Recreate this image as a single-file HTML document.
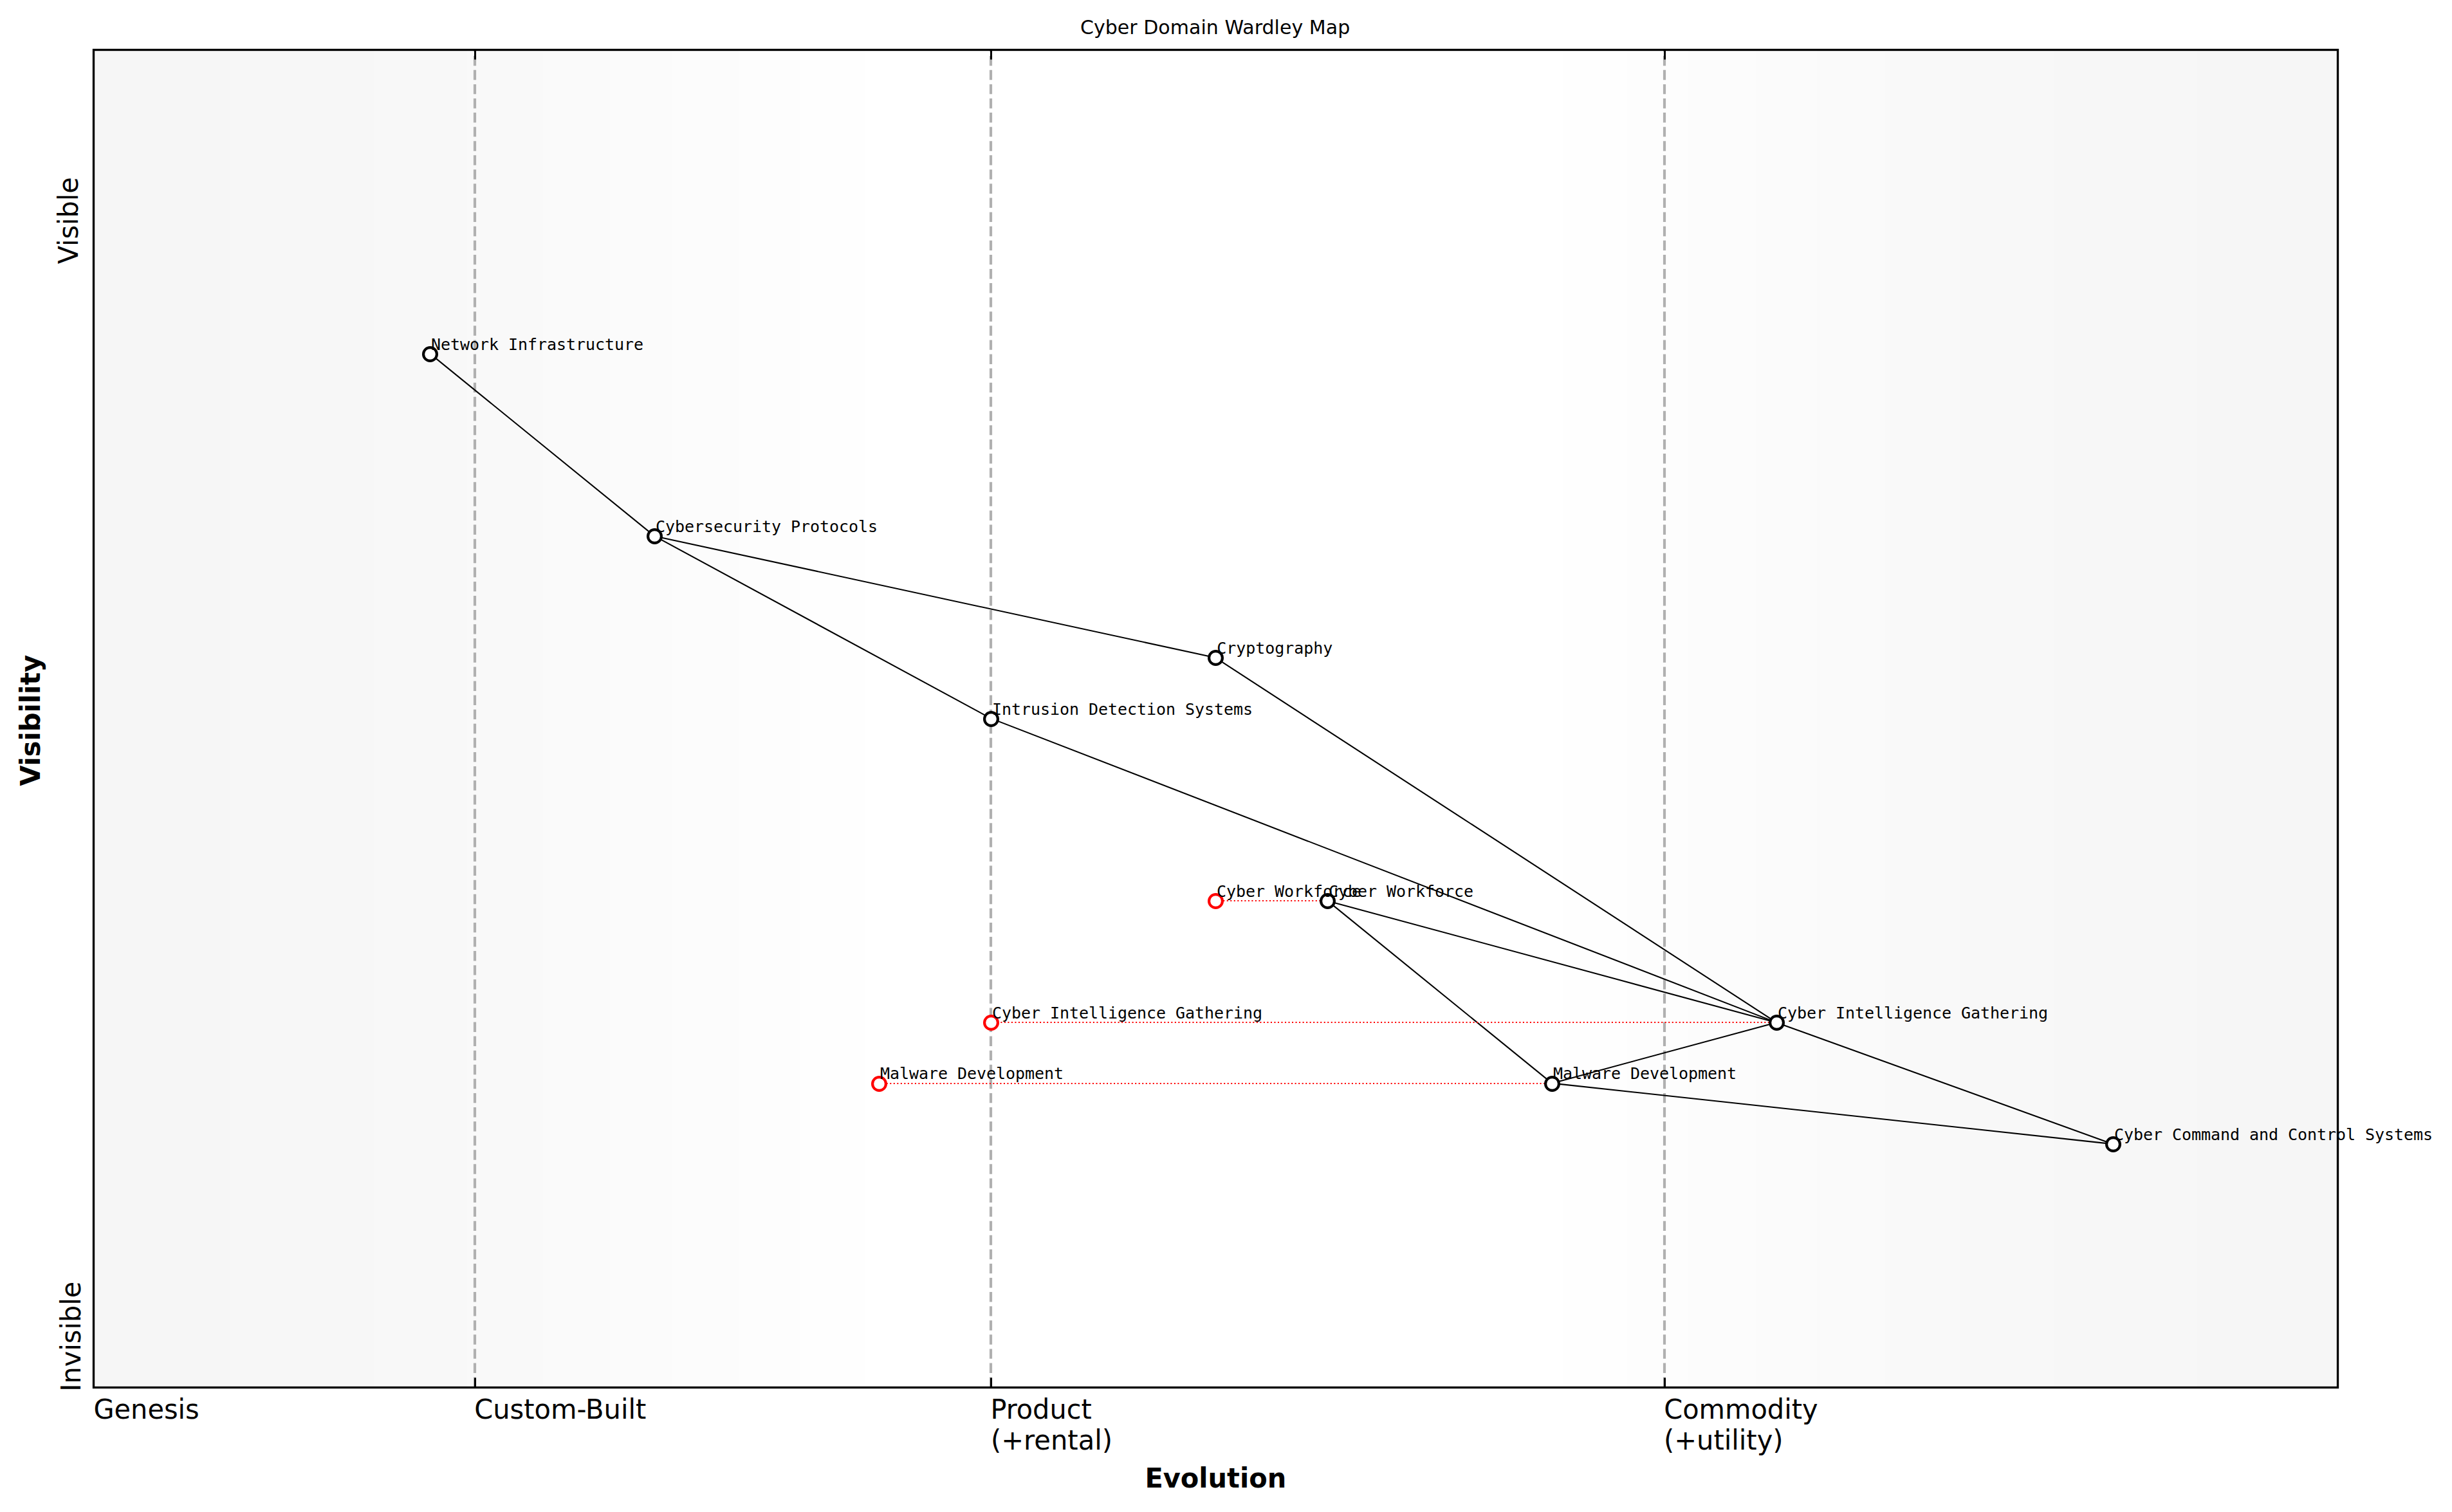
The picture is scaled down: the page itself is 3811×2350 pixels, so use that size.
<!DOCTYPE html>
<html lang="en"><head><meta charset="utf-8"><title>Cyber Domain Wardley Map</title>
<style>
html,body{margin:0;padding:0;background:#fff;}
body{width:3811px;height:2350px;overflow:hidden;}
svg{display:block;}
.s{font-family:"DejaVu Sans","Liberation Sans",sans-serif;}
.m{font-family:"DejaVu Sans Mono","Liberation Mono",monospace;font-size:25px;fill:#000;letter-spacing:-0.05px;}
</style></head><body>
<svg width="3811" height="2350" viewBox="0 0 3811 2350">
<rect x="0" y="0" width="3811" height="2350" fill="#ffffff"/>

<rect x="145" y="77" width="213" height="2080" fill="#f6f6f6"/>
<rect x="358" y="77" width="223" height="2080" fill="#f7f7f7"/>
<rect x="581" y="77" width="145" height="2080" fill="#f8f8f8"/>
<rect x="726" y="77" width="118" height="2080" fill="#f9f9f9"/>
<rect x="844" y="77" width="104" height="2080" fill="#fafafa"/>
<rect x="948" y="77" width="96" height="2080" fill="#fbfbfb"/>
<rect x="1044" y="77" width="104" height="2080" fill="#fcfcfc"/>
<rect x="1148" y="77" width="96" height="2080" fill="#fdfdfd"/>
<rect x="1244" y="77" width="100" height="2080" fill="#fefefe"/>
<rect x="1344" y="77" width="1085" height="2080" fill="#ffffff"/>
<rect x="2429" y="77" width="100" height="2080" fill="#fefefe"/>
<rect x="2529" y="77" width="95" height="2080" fill="#fdfdfd"/>
<rect x="2624" y="77" width="105" height="2080" fill="#fcfcfc"/>
<rect x="2729" y="77" width="95" height="2080" fill="#fbfbfb"/>
<rect x="2824" y="77" width="105" height="2080" fill="#fafafa"/>
<rect x="2929" y="77" width="118" height="2080" fill="#f9f9f9"/>
<rect x="3047" y="77" width="145" height="2080" fill="#f8f8f8"/>
<rect x="3192" y="77" width="223" height="2080" fill="#f7f7f7"/>
<rect x="3415" y="77" width="219" height="2080" fill="#f6f6f6"/>
<line x1="738.00" y1="2156.0" x2="738.00" y2="77.5" stroke="#b0b0b0" stroke-width="4.1667" stroke-dasharray="15.417 6.667"/>
<line x1="1540.00" y1="2156.0" x2="1540.00" y2="77.5" stroke="#b0b0b0" stroke-width="4.1667" stroke-dasharray="15.417 6.667"/>
<line x1="2587.00" y1="2156.0" x2="2587.00" y2="77.5" stroke="#b0b0b0" stroke-width="4.1667" stroke-dasharray="15.417 6.667"/>
<line x1="145.50" y1="2156.5" x2="145.50" y2="2141.50" stroke="#000" stroke-width="3"/>
<line x1="145.50" y1="77.5" x2="145.50" y2="92.50" stroke="#000" stroke-width="3"/>
<line x1="738.50" y1="2156.5" x2="738.50" y2="2141.50" stroke="#000" stroke-width="3"/>
<line x1="738.50" y1="77.5" x2="738.50" y2="92.50" stroke="#000" stroke-width="3"/>
<line x1="1540.50" y1="2156.5" x2="1540.50" y2="2141.50" stroke="#000" stroke-width="3"/>
<line x1="1540.50" y1="77.5" x2="1540.50" y2="92.50" stroke="#000" stroke-width="3"/>
<line x1="2587.50" y1="2156.5" x2="2587.50" y2="2141.50" stroke="#000" stroke-width="3"/>
<line x1="2587.50" y1="77.5" x2="2587.50" y2="92.50" stroke="#000" stroke-width="3"/>
<line x1="668.38" y1="549.65" x2="1017.12" y2="833.15" stroke="#000" stroke-width="2.083"/>
<line x1="1017.12" y1="833.15" x2="1889.00" y2="1022.15" stroke="#000" stroke-width="2.083"/>
<line x1="1017.12" y1="833.15" x2="1540.25" y2="1116.65" stroke="#000" stroke-width="2.083"/>
<line x1="1889.00" y1="1022.15" x2="2760.88" y2="1589.15" stroke="#000" stroke-width="2.083"/>
<line x1="1540.25" y1="1116.65" x2="2760.88" y2="1589.15" stroke="#000" stroke-width="2.083"/>
<line x1="2063.38" y1="1400.15" x2="2760.88" y2="1589.15" stroke="#000" stroke-width="2.083"/>
<line x1="2063.38" y1="1400.15" x2="2412.12" y2="1683.65" stroke="#000" stroke-width="2.083"/>
<line x1="2412.12" y1="1683.65" x2="2760.88" y2="1589.15" stroke="#000" stroke-width="2.083"/>
<line x1="2760.88" y1="1589.15" x2="3284.00" y2="1778.15" stroke="#000" stroke-width="2.083"/>
<line x1="2412.12" y1="1683.65" x2="3284.00" y2="1778.15" stroke="#000" stroke-width="2.083"/>
<line x1="2063.38" y1="1400.00" x2="1889.00" y2="1400.00" stroke="#ff0000" stroke-width="2.083" stroke-dasharray="2.083 3.4375"/>
<line x1="2760.88" y1="1589.00" x2="1540.25" y2="1589.00" stroke="#ff0000" stroke-width="2.083" stroke-dasharray="2.083 3.4375"/>
<line x1="2412.12" y1="1684.00" x2="1365.88" y2="1684.00" stroke="#ff0000" stroke-width="2.083" stroke-dasharray="2.083 3.4375"/>
<circle cx="1889.50" cy="1400.50" r="10.4167" fill="#fff" stroke="#ff0000" stroke-width="4.167"/>
<circle cx="1540.50" cy="1589.50" r="10.4167" fill="#fff" stroke="#ff0000" stroke-width="4.167"/>
<circle cx="1366.50" cy="1684.50" r="10.4167" fill="#fff" stroke="#ff0000" stroke-width="4.167"/>
<circle cx="668.50" cy="550.50" r="10.4167" fill="#fff" stroke="#000" stroke-width="4.167"/>
<circle cx="1017.50" cy="833.50" r="10.4167" fill="#fff" stroke="#000" stroke-width="4.167"/>
<circle cx="1889.50" cy="1022.50" r="10.4167" fill="#fff" stroke="#000" stroke-width="4.167"/>
<circle cx="1540.50" cy="1117.50" r="10.4167" fill="#fff" stroke="#000" stroke-width="4.167"/>
<circle cx="2063.50" cy="1400.50" r="10.4167" fill="#fff" stroke="#000" stroke-width="4.167"/>
<circle cx="2761.50" cy="1589.50" r="10.4167" fill="#fff" stroke="#000" stroke-width="4.167"/>
<circle cx="2412.50" cy="1684.50" r="10.4167" fill="#fff" stroke="#000" stroke-width="4.167"/>
<circle cx="3284.50" cy="1778.50" r="10.4167" fill="#fff" stroke="#000" stroke-width="4.167"/>
<text class="m" x="1891.075" y="1393.850">Cyber Workforce</text>
<text class="m" x="1541.930" y="1582.680">Cyber Intelligence Gathering</text>
<text class="m" x="1368.060" y="1676.560">Malware Development</text>
<text class="m" x="669.905" y="543.600">Network Infrastructure</text>
<text class="m" x="1019.080" y="826.550">Cybersecurity Protocols</text>
<text class="m" x="1891.125" y="1015.570">Cryptography</text>
<text class="m" x="1541.905" y="1111.100">Intrusion Detection Systems</text>
<text class="m" x="2065.070" y="1394.350">Cyber Workforce</text>
<text class="m" x="2762.940" y="1582.560">Cyber Intelligence Gathering</text>
<text class="m" x="2414.090" y="1677.305">Malware Development</text>
<text class="m" x="3285.990" y="1771.610">Cyber Command and Control Systems</text>
<rect x="145.5" y="77.5" width="3488.0" height="2079.0" fill="none" stroke="#000" stroke-width="3.333" stroke-linejoin="miter"/>
<text class="s" font-size="30" text-anchor="middle" letter-spacing="0.05" transform="translate(1888.580 53.400) scale(1.0 1.03)">Cyber Domain Wardley Map</text>
<text class="s" font-size="41.667" transform="translate(145.430 2204.500) scale(0.996 1.04)">Genesis</text>
<text class="s" font-size="41.667" transform="translate(737.200 2205.000) scale(0.998 1.03)">Custom-Built</text>
<text class="s" font-size="41.667" transform="translate(1539.445 2205.000) scale(0.994 1.03)">Product</text>
<text class="s" font-size="41.667" transform="translate(1539.935 2252.500) scale(1.0 1.03)">(+rental)</text>
<text class="s" font-size="41.667" transform="translate(2586.215 2204.500) scale(0.996 1.02)">Commodity</text>
<text class="s" font-size="41.667" transform="translate(2586.020 2252.500) scale(0.998 1.04)">(+utility)</text>
<text class="s" font-size="41.667" transform="translate(124.900 2162.800) rotate(-90) scale(0.996 1.03)">Invisible</text>
<text class="s" font-size="41.667" transform="translate(120.525 410.310) rotate(-90) scale(0.992 1.04)">Visible</text>
<text class="s" font-size="41.667" text-anchor="middle" font-weight="bold" transform="translate(1889.305 2311.550) scale(0.996 1.01)">Evolution</text>
<text class="s" font-size="41.667" text-anchor="middle" font-weight="bold" transform="translate(61.500 1119.750) rotate(-90) scale(0.998 1.04)">Visibility</text>
</svg></body></html>
